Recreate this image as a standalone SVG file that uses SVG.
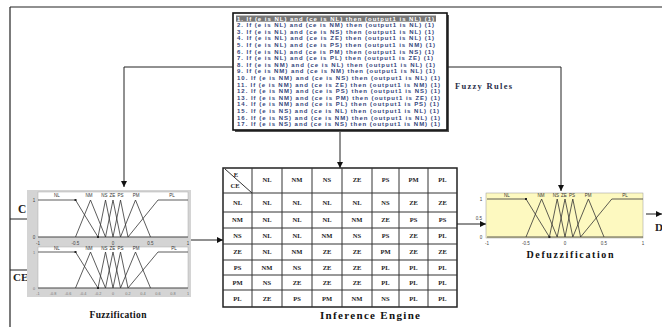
<svg xmlns="http://www.w3.org/2000/svg" width="662" height="327" viewBox="0 0 662 327">
<style>
.rule{font-family:"Liberation Sans",Arial,sans-serif;font-size:6px;font-weight:bold;fill:#34457a}
.cell{font-family:"Liberation Serif","Times New Roman",serif;font-size:6.5px;font-weight:bold;fill:#222;text-anchor:middle}
.title{font-family:"Liberation Serif","Times New Roman",serif;font-weight:bold;fill:#111;text-anchor:middle}
.lbl{font-family:"Liberation Serif","Times New Roman",serif;font-weight:bold;fill:#222}
.mf{fill:none;stroke:#333;stroke-width:0.8}
.mfl{font-family:"Liberation Sans",Arial,sans-serif;font-size:4.5px;fill:#333;text-anchor:middle}
.tick{font-family:"Liberation Sans",Arial,sans-serif;font-size:4.5px;fill:#444;text-anchor:middle}
.tick2{font-family:"Liberation Sans",Arial,sans-serif;font-size:3.8px;fill:#777;text-anchor:middle}
.conn{fill:none;stroke:#222;stroke-width:1}
.grid{stroke:#333;stroke-width:1}
.mk{fill:#222}
</style>
<defs>
<marker id="ah" viewBox="0 0 10 10" refX="10" refY="5" markerWidth="7" markerHeight="6" markerUnits="userSpaceOnUse" orient="auto">
<path d="M0,0 L10,5 L0,10 z" fill="#111"/>
</marker>
</defs>

<!-- frame -->
<g id="frame">
<line x1="10" y1="7" x2="662" y2="7" stroke="#222" stroke-width="1.2"/>
<line x1="10" y1="7" x2="10" y2="327" stroke="#222" stroke-width="1.2"/>
</g>

<!-- rules box -->
<g id="rules">
<rect x="235" y="15" width="214" height="117" fill="#555"/>
<rect x="233" y="13" width="214" height="117" fill="#fff" stroke="#111" stroke-width="1.6"/>
<rect x="236" y="15.5" width="200" height="6.2" fill="#777"/>
<text class="rule" x="237" y="20.5" textLength="197" style="fill:#fff">1. If (e is NL) and (ce is NL) then (output1 is NL) (1)</text>
<text class="rule" x="237" y="27.1" textLength="197">2. If (e is NL) and (ce is NM) then (output1 is NL) (1)</text>
<text class="rule" x="237" y="33.7" textLength="197">3. If (e is NL) and (ce is NS) then (output1 is NL) (1)</text>
<text class="rule" x="237" y="40.3" textLength="197">4. If (e is NL) and (ce is ZE) then (output1 is NL) (1)</text>
<text class="rule" x="237" y="46.9" textLength="198">5. If (e is NL) and (ce is PS) then (output1 is NM) (1)</text>
<text class="rule" x="237" y="53.5" textLength="197">6. If (e is NL) and (ce is PM) then (output1 is NS) (1)</text>
<text class="rule" x="237" y="60.1" textLength="196">7. If (e is NL) and (ce is PL) then (output1 is ZE) (1)</text>
<text class="rule" x="237" y="66.7" textLength="198">8. If (e is NM) and (ce is NL) then (output1 is NL) (1)</text>
<text class="rule" x="237" y="73.3" textLength="198">9. If (e is NM) and (ce is NM) then (output1 is NL) (1)</text>
<text class="rule" x="237" y="79.9" textLength="203">10. If (e is NM) and (ce is NS) then (output1 is NL) (1)</text>
<text class="rule" x="237" y="86.5" textLength="203">11. If (e is NM) and (ce is ZE) then (output1 is NM) (1)</text>
<text class="rule" x="237" y="93.1" textLength="203">12. If (e is NM) and (ce is PS) then (output1 is NS) (1)</text>
<text class="rule" x="237" y="99.7" textLength="203">13. If (e is NM) and (ce is PM) then (output1 is ZE) (1)</text>
<text class="rule" x="237" y="106.3" textLength="202">14. If (e is NM) and (ce is PL) then (output1 is PS) (1)</text>
<text class="rule" x="237" y="112.9" textLength="202">15. If (e is NS) and (ce is NL) then (output1 is NL) (1)</text>
<text class="rule" x="237" y="119.5" textLength="203">16. If (e is NS) and (ce is NM) then (output1 is NL) (1)</text>
<text class="rule" x="237" y="126.1" textLength="203">17. If (e is NS) and (ce is NS) then (output1 is NM) (1)</text>
</g>
<text class="lbl" x="455" y="89" font-size="8.5" textLength="57" style="fill:#2a2f4a">Fuzzy Rules</text>

<!-- connectors -->
<g id="connectors">
<path class="conn" d="M233,67 H124 V187" marker-end="url(#ah)"/>
<path class="conn" d="M447,67 H561 V191" marker-end="url(#ah)"/>
<path class="conn" d="M340,132 V168" marker-end="url(#ah)"/>
<path class="conn" d="M188,240 H223" marker-end="url(#ah)"/>
<path class="conn" d="M457,224 H486" marker-end="url(#ah)"/>
<path class="conn" d="M646,214 H662" marker-end="url(#ah)"/>
<path class="conn" d="M10,219 H39" marker-end="url(#ah)"/>
<path class="conn" d="M10,270 H39" marker-end="url(#ah)"/>
</g>
<text class="lbl" x="18" y="213" font-size="11.5">C</text>
<text class="lbl" x="13" y="281" font-size="11">CE</text>
<text class="lbl" x="655" y="231" font-size="11">D</text>

<!-- fuzzification -->
<g id="fuzzification">
<rect x="27" y="190" width="164" height="107" fill="#d4d4d4"/>
<rect x="38" y="192" width="150" height="45" fill="#fff" stroke="#aaa" stroke-width="0.5"/>
<rect x="38" y="247" width="150" height="41" fill="#fff" stroke="#aaa" stroke-width="0.5"/>
<!-- top plot -->
<line x1="38" y1="237" x2="188" y2="237" class="mf"/>
<polyline class="mf" points="38,200 75.5,200 98,237"/>
<polyline class="mf" points="75.5,237 90.5,200 105.5,237"/>
<polyline class="mf" points="98,237 105.5,200 113,237"/>
<polyline class="mf" points="105.5,237 113,200 120.5,237"/>
<polyline class="mf" points="113,237 120.5,200 128,237"/>
<polyline class="mf" points="120.5,237 135.5,200 150.5,237"/>
<polyline class="mf" points="128,237 158,200 188,200"/>
<rect class="mk" x="74.5" y="199" width="2" height="2"/>
<rect class="mk" x="97" y="236" width="2" height="2"/>
<text class="mfl" x="57" y="197">NL</text>
<text class="mfl" x="89" y="197">NM</text>
<text class="mfl" x="104.5" y="197" font-size="4">NS</text>
<text class="mfl" x="112.5" y="197" font-size="4">ZE</text>
<text class="mfl" x="120.5" y="197" font-size="4">PS</text>
<text class="mfl" x="136" y="197">PM</text>
<text class="mfl" x="172" y="197">PL</text>
<text class="tick" x="34" y="202">1</text>
<text class="tick" x="34" y="239">0</text>
<text class="tick" x="38" y="244.5">-1</text>
<text class="tick" x="75.5" y="244.5">-0.5</text>
<text class="tick" x="113" y="244.5">0</text>
<text class="tick" x="150.5" y="244.5">0.5</text>
<text class="tick" x="188" y="244.5">1</text>
<!-- bottom plot -->
<line x1="38" y1="288" x2="188" y2="288" class="mf"/>
<polyline class="mf" points="38,252 75.5,252 98,288"/>
<polyline class="mf" points="75.5,288 90.5,252 105.5,288"/>
<polyline class="mf" points="98,288 105.5,252 113,288"/>
<polyline class="mf" points="105.5,288 113,252 120.5,288"/>
<polyline class="mf" points="113,288 120.5,252 128,288"/>
<polyline class="mf" points="120.5,288 135.5,252 150.5,288"/>
<polyline class="mf" points="128,288 158,252 188,252"/>
<rect class="mk" x="74.5" y="251" width="2" height="2"/>
<rect class="mk" x="97" y="287" width="2" height="2"/>
<text class="mfl" x="57" y="250" font-size="4">NL</text>
<text class="mfl" x="89" y="250" font-size="4">NM</text>
<text class="mfl" x="104.5" y="250" font-size="3.6">NS</text>
<text class="mfl" x="112.5" y="250" font-size="3.6">ZE</text>
<text class="mfl" x="120.5" y="250" font-size="3.6">PS</text>
<text class="mfl" x="136" y="250" font-size="4">PM</text>
<text class="mfl" x="174" y="250" font-size="4">PL</text>
<text class="tick2" x="34" y="254">1</text>
<text class="tick2" x="34" y="290">0</text>
<text class="tick2" x="38" y="295">-1</text>
<text class="tick2" x="53" y="295">-0.8</text>
<text class="tick2" x="68" y="295">-0.6</text>
<text class="tick2" x="83" y="295">-0.4</text>
<text class="tick2" x="98" y="295">-0.2</text>
<text class="tick2" x="113" y="295">0</text>
<text class="tick2" x="128" y="295">0.2</text>
<text class="tick2" x="143" y="295">0.4</text>
<text class="tick2" x="158" y="295">0.6</text>
<text class="tick2" x="173" y="295">0.8</text>
<text class="tick2" x="188" y="295">1</text>
<text class="title" x="118" y="318" font-size="9.5" textLength="57">Fuzzification</text>
</g>

<!-- inference engine -->
<g id="inference">
<rect x="223" y="168" width="234" height="139" fill="#fff" stroke="#222" stroke-width="1.5"/>
<g class="grid">
<line x1="252" y1="168" x2="252" y2="307"/><line x1="282" y1="168" x2="282" y2="307"/>
<line x1="312" y1="168" x2="312" y2="307"/><line x1="342" y1="168" x2="342" y2="307"/>
<line x1="372" y1="168" x2="372" y2="307"/><line x1="399" y1="168" x2="399" y2="307"/>
<line x1="428" y1="168" x2="428" y2="307"/>
<line x1="223" y1="193" x2="457" y2="193"/><line x1="223" y1="212" x2="457" y2="212"/>
<line x1="223" y1="228" x2="457" y2="228"/><line x1="223" y1="244" x2="457" y2="244"/>
<line x1="223" y1="260" x2="457" y2="260"/><line x1="223" y1="275" x2="457" y2="275"/>
<line x1="223" y1="290" x2="457" y2="290"/>
<line x1="225" y1="169" x2="252" y2="193"/>
</g>
<text class="cell" x="236" y="177">E</text>
<text class="cell" x="235" y="188">CE</text>
<g>
<text class="cell" x="267" y="182">NL</text><text class="cell" x="297" y="182">NM</text><text class="cell" x="327" y="182">NS</text><text class="cell" x="357" y="182">ZE</text><text class="cell" x="385.5" y="182">PS</text><text class="cell" x="413.5" y="182">PM</text><text class="cell" x="442.5" y="182">PL</text>
</g>
<g>
<text class="cell" x="237.5" y="205">NL</text><text class="cell" x="267" y="205">NL</text><text class="cell" x="297" y="205">NL</text><text class="cell" x="327" y="205">NL</text><text class="cell" x="357" y="205">NL</text><text class="cell" x="385.5" y="205">NS</text><text class="cell" x="413.5" y="205">ZE</text><text class="cell" x="442.5" y="205">ZE</text>
<text class="cell" x="237.5" y="222">NM</text><text class="cell" x="267" y="222">NL</text><text class="cell" x="297" y="222">NL</text><text class="cell" x="327" y="222">NL</text><text class="cell" x="357" y="222">NM</text><text class="cell" x="385.5" y="222">ZE</text><text class="cell" x="413.5" y="222">PS</text><text class="cell" x="442.5" y="222">PS</text>
<text class="cell" x="237.5" y="238">NS</text><text class="cell" x="267" y="238">NL</text><text class="cell" x="297" y="238">NL</text><text class="cell" x="327" y="238">NM</text><text class="cell" x="357" y="238">NS</text><text class="cell" x="385.5" y="238">PS</text><text class="cell" x="413.5" y="238">ZE</text><text class="cell" x="442.5" y="238">PL</text>
<text class="cell" x="237.5" y="254">ZE</text><text class="cell" x="267" y="254">NL</text><text class="cell" x="297" y="254">NM</text><text class="cell" x="327" y="254">ZE</text><text class="cell" x="357" y="254">ZE</text><text class="cell" x="385.5" y="254">PM</text><text class="cell" x="413.5" y="254">ZE</text><text class="cell" x="442.5" y="254">ZE</text>
<text class="cell" x="237.5" y="269.5">PS</text><text class="cell" x="267" y="269.5">NM</text><text class="cell" x="297" y="269.5">NS</text><text class="cell" x="327" y="269.5">ZE</text><text class="cell" x="357" y="269.5">ZE</text><text class="cell" x="385.5" y="269.5">PL</text><text class="cell" x="413.5" y="269.5">PL</text><text class="cell" x="442.5" y="269.5">PL</text>
<text class="cell" x="237.5" y="284.5">PM</text><text class="cell" x="267" y="284.5">NS</text><text class="cell" x="297" y="284.5">ZE</text><text class="cell" x="327" y="284.5">ZE</text><text class="cell" x="357" y="284.5">ZE</text><text class="cell" x="385.5" y="284.5">PL</text><text class="cell" x="413.5" y="284.5">PL</text><text class="cell" x="442.5" y="284.5">PL</text>
<text class="cell" x="237.5" y="300.5">PL</text><text class="cell" x="267" y="300.5">ZE</text><text class="cell" x="297" y="300.5">PS</text><text class="cell" x="327" y="300.5">PM</text><text class="cell" x="357" y="300.5">NM</text><text class="cell" x="385.5" y="300.5">NS</text><text class="cell" x="413.5" y="300.5">PL</text><text class="cell" x="442.5" y="300.5">PL</text>
</g>
<text class="title" x="370" y="318.5" font-size="11" textLength="100">Inference Engine</text>
</g>

<!-- defuzzification -->
<g id="defuzzification">
<rect x="486" y="193" width="157" height="45" fill="#fdf9c0" stroke="#999" stroke-width="0.5"/>
<line x1="487" y1="237" x2="643" y2="237" class="mf"/>
<polyline class="mf" points="487,199 526,199 549.4,237"/>
<polyline class="mf" points="526,237 541.6,199 557.2,237"/>
<polyline class="mf" points="549.4,237 557.2,199 565,237"/>
<polyline class="mf" points="557.2,237 565,199 572.8,237"/>
<polyline class="mf" points="565,237 572.8,199 580.6,237"/>
<polyline class="mf" points="572.8,237 588.4,199 604,237"/>
<polyline class="mf" points="580.6,237 611.8,199 643,199"/>
<rect class="mk" x="525" y="198" width="2" height="2"/>
<rect class="mk" x="548.4" y="236" width="2" height="2"/>
<text class="mfl" x="507" y="197">NL</text>
<text class="mfl" x="541" y="197">NM</text>
<text class="mfl" x="556" y="197" font-size="4">NS</text>
<text class="mfl" x="564" y="197" font-size="4">ZE</text>
<text class="mfl" x="572" y="197" font-size="4">PS</text>
<text class="mfl" x="588" y="197">PM</text>
<text class="mfl" x="625" y="197">PL</text>
<text class="tick" x="481" y="201">1</text>
<text class="tick" x="479" y="220">0.5</text>
<text class="tick" x="481" y="239">0</text>
<text class="tick" x="487" y="244.5">-1</text>
<text class="tick" x="526" y="244.5">-0.5</text>
<text class="tick" x="565" y="244.5">0</text>
<text class="tick" x="604" y="244.5">0.5</text>
<text class="tick" x="643" y="244.5">1</text>
<text class="title" x="570" y="258" font-size="10" textLength="87">Defuzzification</text>
</g>
</svg>
